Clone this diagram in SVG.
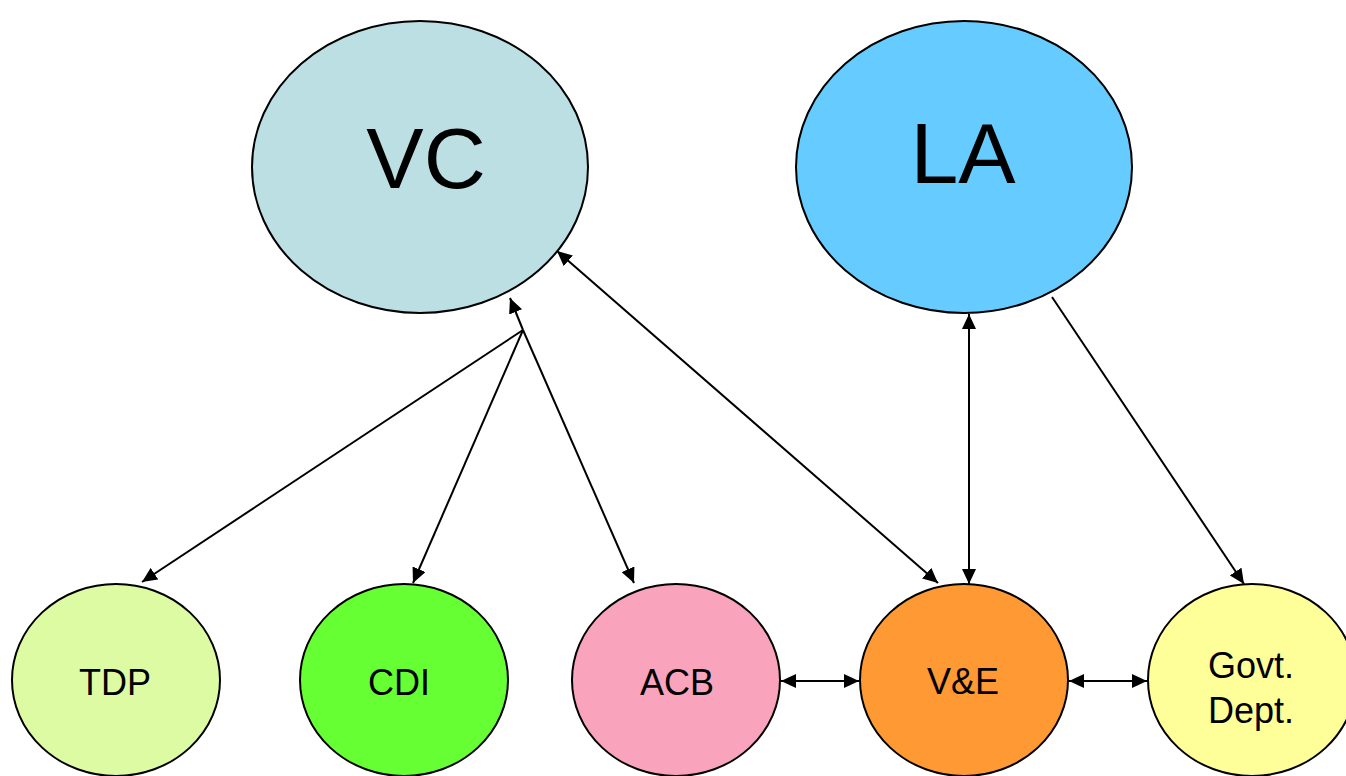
<svg xmlns="http://www.w3.org/2000/svg" width="1346" height="776" viewBox="0 0 1346 776">
<style>
.n{stroke:#000;stroke-width:2}
.big{font-family:"Liberation Sans",Arial,sans-serif;font-size:86px;text-anchor:middle}
.sm{font-family:"Liberation Sans",Arial,sans-serif;font-size:36px;text-anchor:middle}
.c{stroke:#000;stroke-width:2;fill:none}
</style>
<defs>
<marker id="ah" markerUnits="userSpaceOnUse" markerWidth="16" markerHeight="14" refX="15" refY="7" orient="auto-start-reverse" viewBox="0 0 16 14">
<path d="M0,0 L15,7 L0,14 z" fill="#000"/>
</marker>
</defs>
<rect width="1346" height="776" fill="#fff"/>
<g id="connectors">
<line class="c" x1="523" y1="330" x2="510" y2="298" marker-end="url(#ah)"/>
<line class="c" x1="523" y1="330" x2="142" y2="582" marker-end="url(#ah)"/>
<line class="c" x1="523" y1="330" x2="413" y2="583" marker-end="url(#ah)"/>
<line class="c" x1="523" y1="330" x2="634" y2="583" marker-end="url(#ah)"/>
<line class="c" x1="557" y1="251" x2="938" y2="583" marker-start="url(#ah)" marker-end="url(#ah)"/>
<line class="c" x1="969" y1="314" x2="969" y2="584" marker-start="url(#ah)" marker-end="url(#ah)"/>
<line class="c" x1="1052" y1="297" x2="1244" y2="584" marker-end="url(#ah)"/>
<line class="c" x1="781" y1="681" x2="859" y2="681" marker-start="url(#ah)" marker-end="url(#ah)"/>
<line class="c" x1="1069" y1="681" x2="1147" y2="681" marker-start="url(#ah)" marker-end="url(#ah)"/>
</g>
<g id="VC"><ellipse class="n" cx="420" cy="167" rx="168" ry="146" fill="#bbdfe3"/><text class="big" x="426" y="188">VC</text></g>
<g id="LA"><ellipse class="n" cx="964" cy="167" rx="168" ry="146" fill="#66ccff"/><text class="big" x="963" y="183">LA</text></g>
<g id="TDP"><ellipse class="n" cx="116" cy="680" rx="104" ry="96" fill="#ddfba3"/><text class="sm" x="115" y="695">TDP</text></g>
<g id="CDI"><ellipse class="n" cx="404" cy="680" rx="104" ry="96" fill="#66ff33"/><text class="sm" x="399" y="695">CDI</text></g>
<g id="ACB"><ellipse class="n" cx="676" cy="680" rx="104" ry="96" fill="#f9a3bd"/><text class="sm" x="677" y="695">ACB</text></g>
<g id="VE"><ellipse class="n" cx="964" cy="680" rx="104" ry="96" fill="#ff9933"/><text class="sm" x="963" y="694">V&amp;E</text></g>
<g id="Govt"><ellipse class="n" cx="1252" cy="680" rx="104" ry="96" fill="#ffff99"/><text class="sm" x="1251" y="678">Govt.</text><text class="sm" x="1251" y="723">Dept.</text></g>
</svg>
